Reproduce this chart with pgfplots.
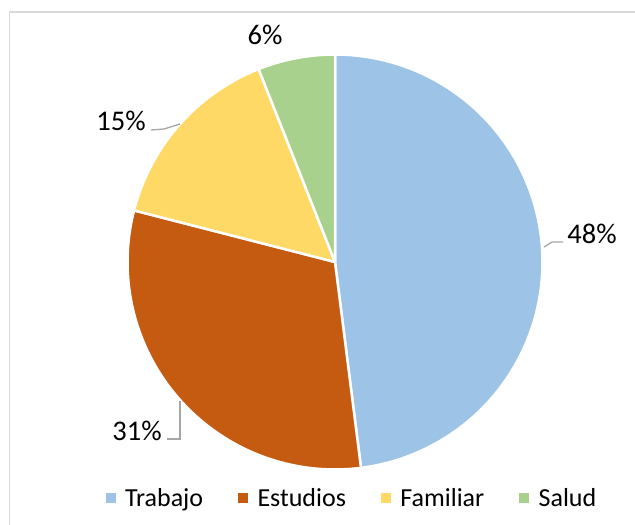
\documentclass[border=0pt]{standalone}
\usepackage{pgfplots}
\pgfplotsset{compat=1.18}
\usepackage{pgfplotstable}
\usepackage{fontspec}
\setmainfont{Carlito}
\definecolor{cTrab}{HTML}{9DC3E6}
\definecolor{cEst}{HTML}{C55A11}
\definecolor{cFam}{HTML}{FFD966}
\definecolor{cSal}{HTML}{A9D18E}
\definecolor{leader}{HTML}{A6A6A6}
\definecolor{framec}{HTML}{D9D9D9}
\pgfplotstableread{
label value
Trabajo 48
Estudios 31
Familiar 15
Salud 6
}\piedata
\begin{document}
\begin{tikzpicture}
\useasboundingbox (0,0) rectangle (635bp,525bp);
\pgfplotstablegetelem{0}{value}\of\piedata\pgfmathsetmacro\va{\pgfplotsretval}
\pgfplotstablegetelem{1}{value}\of\piedata\pgfmathsetmacro\vb{\pgfplotsretval}
\pgfplotstablegetelem{2}{value}\of\piedata\pgfmathsetmacro\vc{\pgfplotsretval}
\pgfplotstablegetelem{3}{value}\of\piedata\pgfmathsetmacro\vd{\pgfplotsretval}
\pgfmathsetmacro\aA{90}
\pgfmathsetmacro\aB{90-3.6*\va}
\pgfmathsetmacro\aC{\aB-3.6*\vb}
\pgfmathsetmacro\aD{\aC-3.6*\vc}
\pgfmathsetmacro\aE{\aD-3.6*\vd}
\draw[framec, line width=1.5bp] (9.5bp,0) -- (9.5bp,513bp) -- (635bp,513bp);
\begin{axis}[at={(0,0)}, anchor=south west, scale only axis,
  width=635bp, height=525bp, xmin=0, xmax=635, ymin=0, ymax=525,
  hide axis, clip=false,
  legend columns=4,
  legend style={at={(axis cs:352,27)}, anchor=center, draw=none, fill=none,
    font=\fontsize{26bp}{31bp}\selectfont,
    /tikz/every even column/.append style={column sep=33bp}},
  legend cell align=left]
\addplot[fill=cTrab, draw=white, line width=2.5bp, line join=round, domain=\aB:\aA, samples=90, forget plot]
  ({335+207.5*cos(x)},{263+207.5*sin(x)}) -- (axis cs:335,263) -- cycle;
\addplot[fill=cEst, draw=white, line width=2.5bp, line join=round, domain=\aC:\aB, samples=60, forget plot]
  ({335+207.5*cos(x)},{263+207.5*sin(x)}) -- (axis cs:335,263) -- cycle;
\addplot[fill=cFam, draw=white, line width=2.5bp, line join=round, domain=\aD:\aC, samples=40, forget plot]
  ({335+207.5*cos(x)},{263+207.5*sin(x)}) -- (axis cs:335,263) -- cycle;
\addplot[fill=cSal, draw=white, line width=2.5bp, line join=round, domain=\aE:\aD, samples=20, forget plot]
  ({335+207.5*cos(x)},{263+207.5*sin(x)}) -- (axis cs:335,263) -- cycle;
\addplot[leader, line width=1.3bp, forget plot] coordinates {(544,278) (552,283) (563,283)};
\addplot[leader, line width=1.3bp, forget plot] coordinates {(167,86) (180,86) (180,124)};
\addplot[leader, line width=1.3bp, forget plot] coordinates {(151,395) (164,396) (180,401)};
\node[font=\fontsize{28.5bp}{34bp}\selectfont] at (axis cs:592,291) {48\%};
\node[font=\fontsize{28.5bp}{34bp}\selectfont] at (axis cs:137,94.5) {31\%};
\node[font=\fontsize{28.5bp}{34bp}\selectfont] at (axis cs:121,404) {15\%};
\node[font=\fontsize{28.5bp}{34bp}\selectfont] at (axis cs:265,490) {6\%};
\addlegendimage{legend image code/.code={\fill[cTrab] (0bp,-4.5bp) rectangle (9bp,4.5bp); \path (17bp,0bp);}}
\addlegendentry{Trabajo}
\addlegendimage{legend image code/.code={\fill[cEst] (0bp,-4.5bp) rectangle (9bp,4.5bp); \path (17bp,0bp);}}
\addlegendentry{Estudios}
\addlegendimage{legend image code/.code={\fill[cFam] (0bp,-4.5bp) rectangle (9bp,4.5bp); \path (17bp,0bp);}}
\addlegendentry{Familiar}
\addlegendimage{legend image code/.code={\fill[cSal] (0bp,-4.5bp) rectangle (9bp,4.5bp); \path (17bp,0bp);}}
\addlegendentry{Salud}
\end{axis}
\end{tikzpicture}
\end{document}
